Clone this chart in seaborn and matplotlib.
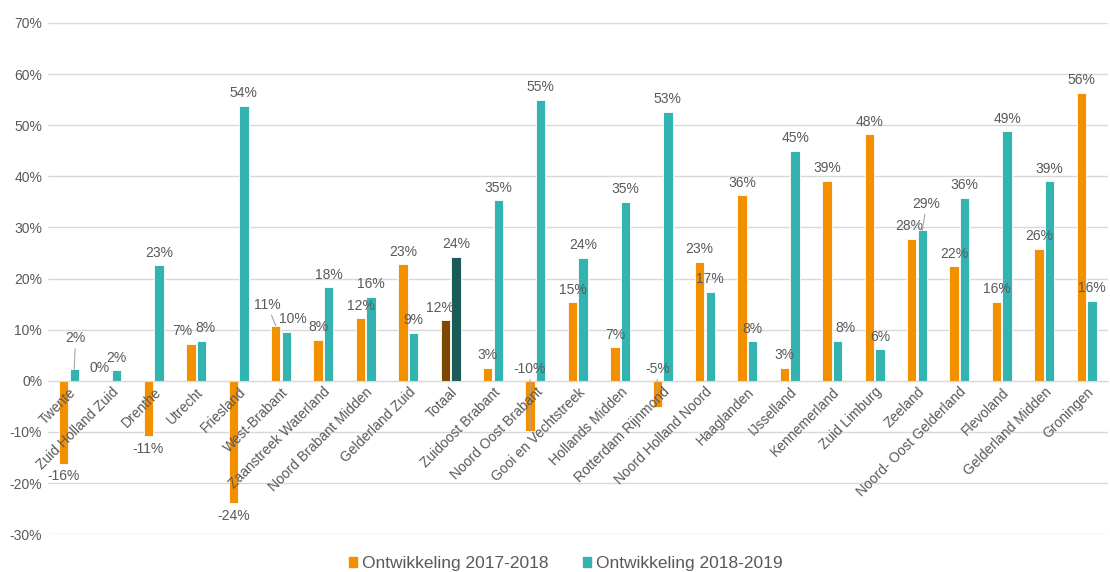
import numpy as np
import pandas as pd
import matplotlib
matplotlib.use("Agg")
import matplotlib.pyplot as plt
import seaborn as sns

# regio's in volgorde van de grafiek
regios = [
    "Twente", "Zuid Holland Zuid", "Drenthe", "Utrecht", "Friesland",
    "West-Brabant", "Zaanstreek Waterland", "Noord Brabant Midden",
    "Gelderland Zuid", "Totaal", "Zuidoost Brabant", "Noord Oost Brabant",
    "Gooi en Vechtstreek", "Hollands Midden", "Rotterdam Rijnmond",
    "Noord Holland Noord", "Haaglanden", "IJsselland", "Kennemerland",
    "Zuid Limburg", "Zeeland", "Noord- Oost Gelderland", "Flevoland",
    "Gelderland Midden", "Groningen",
]

# ontwikkeling in procenten
ontw_1718 = [-16.2, 0.0, -10.8, 7.3, -23.9, 10.8, 8.0, 12.2, 22.8, 11.8,
             2.6, -9.9, 15.4, 6.6, -5.1, 23.3, 36.3, 2.6, 39.1, 48.2,
             27.8, 22.4, 15.5, 25.8, 56.3]
ontw_1819 = [2.3, 2.1, 22.6, 7.8, 53.8, 9.6, 18.3, 16.4, 9.4, 24.3,
             35.3, 55.0, 24.1, 35.0, 52.6, 17.4, 7.7, 45.0, 7.8, 6.2,
             29.4, 35.8, 48.8, 39.0, 15.7]

reeksen = ["Ontwikkeling 2017-2018", "Ontwikkeling 2018-2019"]

df = pd.DataFrame({
    "regio": regios * 2,
    "reeks": [reeksen[0]] * len(regios) + [reeksen[1]] * len(regios),
    "waarde": ontw_1718 + ontw_1819,
})

ORANJE = "#F39000"
TEAL = "#33B4B1"
TOTAAL_KLEUREN = ["#7A4800", "#1B5B58"]
GRIJS = "#595959"
LIJN = "#A6A6A6"

# afwijkende labelposities (dx, dy in punten, leader line, boven de nul)
label_stijl = {
    ("Twente", 1): dict(dx=1, dy=13, lijn=True),
    ("Zuid Holland Zuid", 0): dict(dx=-5),
    ("Utrecht", 0): dict(dx=-6),
    ("Utrecht", 1): dict(dx=3),
    ("West-Brabant", 0): dict(dx=-6, dy=6, lijn=True),
    ("West-Brabant", 1): dict(dx=5),
    ("Totaal", 0): dict(dx=-4),
    ("Kennemerland", 1): dict(dx=6),
    ("Zeeland", 0): dict(dx=-2),
    ("Zeeland", 1): dict(dx=3, dy=10, lijn=True),
    ("Noord Oost Brabant", 0): dict(boven=True, lijn=True),
    ("Rotterdam Rijnmond", 0): dict(boven=True, lijn=True),
}

sns.set_style("white")
plt.rcParams['font.family'] = ['Liberation Sans', 'DejaVu Sans']

fig = plt.figure(figsize=(11.1, 5.72), dpi=100)
ax = fig.add_axes([0.043, 0.066, 0.955, 0.894])

sns.barplot(data=df, x="regio", y="waarde", hue="reeks",
            palette=[ORANJE, TEAL], width=0.5, gap=0.12,
            ax=ax, legend=True, saturation=1)

# Totaal afwijkend kleuren
idx_totaal = regios.index("Totaal")
for cont, kleur in zip(ax.containers, TOTAAL_KLEUREN):
    cont.patches[idx_totaal].set_facecolor(kleur)

for cont in ax.containers:
    for p in cont.patches:
        p.set_edgecolor("white")
        p.set_linewidth(0.6)

# data labels
for s, (cont, waarden) in enumerate(zip(ax.containers, [ontw_1718, ontw_1819])):
    for regio, p, v in zip(regios, cont.patches, waarden):
        tekst = f"{round(v):.0f}%"
        x = p.get_x() + p.get_width() / 2
        eind = p.get_y() + p.get_height()
        st = label_stijl.get((regio, s), {})
        pijl = dict(arrowstyle="-", color=LIJN, lw=0.8, shrinkA=0, shrinkB=0) if st.get("lijn") else None
        if st.get("boven"):
            ax.annotate(tekst, xy=(x, eind), xytext=(x, 0.9), textcoords="data",
                        ha="center", va="bottom", fontsize=10, color=GRIJS,
                        arrowprops=pijl)
            continue
        if v >= 0:
            dy, va = 4 + st.get("dy", 0), "bottom"
        else:
            dy, va = -4, "top"
        ax.annotate(tekst, xy=(x, eind), xytext=(st.get("dx", 0), dy),
                    textcoords="offset points", ha="center", va=va,
                    fontsize=10, color=GRIJS, arrowprops=pijl)

ax.set_ylim(-30, 70)
ax.set_xlim(-0.5, len(regios) - 0.5)
ax.set_yticks(np.arange(-30, 71, 10))
ax.set_yticklabels([f"{t}%" for t in range(-30, 71, 10)], fontsize=10, color=GRIJS)
ax.yaxis.grid(True, color="#D9D9D9", linewidth=1)
ax.set_axisbelow(True)
# categorie-labels over de staven heen, zoals in Excel
ax.xaxis.set_zorder(5)

for s in ["top", "right", "left"]:
    ax.spines[s].set_visible(False)
ax.spines["bottom"].set_position(("data", 0))
ax.spines["bottom"].set_color("#D9D9D9")
ax.tick_params(axis="both", length=0, pad=4)
ax.tick_params(axis="x", pad=3)
ax.set_xticks(range(len(regios)))
ax.set_xticklabels(regios, rotation=45, ha="right", rotation_mode="anchor",
                   fontsize=10, color=GRIJS)
ax.set_xlabel("")
ax.set_ylabel("")

ax.get_legend().remove()
handles = [plt.Rectangle((0, 0), 1, 1, color=c) for c in [ORANJE, TEAL]]
fig.legend(handles, reeksen, loc="lower center", bbox_to_anchor=(0.51, -0.026),
           ncol=2, frameon=False, fontsize=12.5, handlelength=0.45, handleheight=0.45,
           handletextpad=0.3, columnspacing=2.0, labelcolor=GRIJS)

fig.savefig("out.png", dpi=100)
